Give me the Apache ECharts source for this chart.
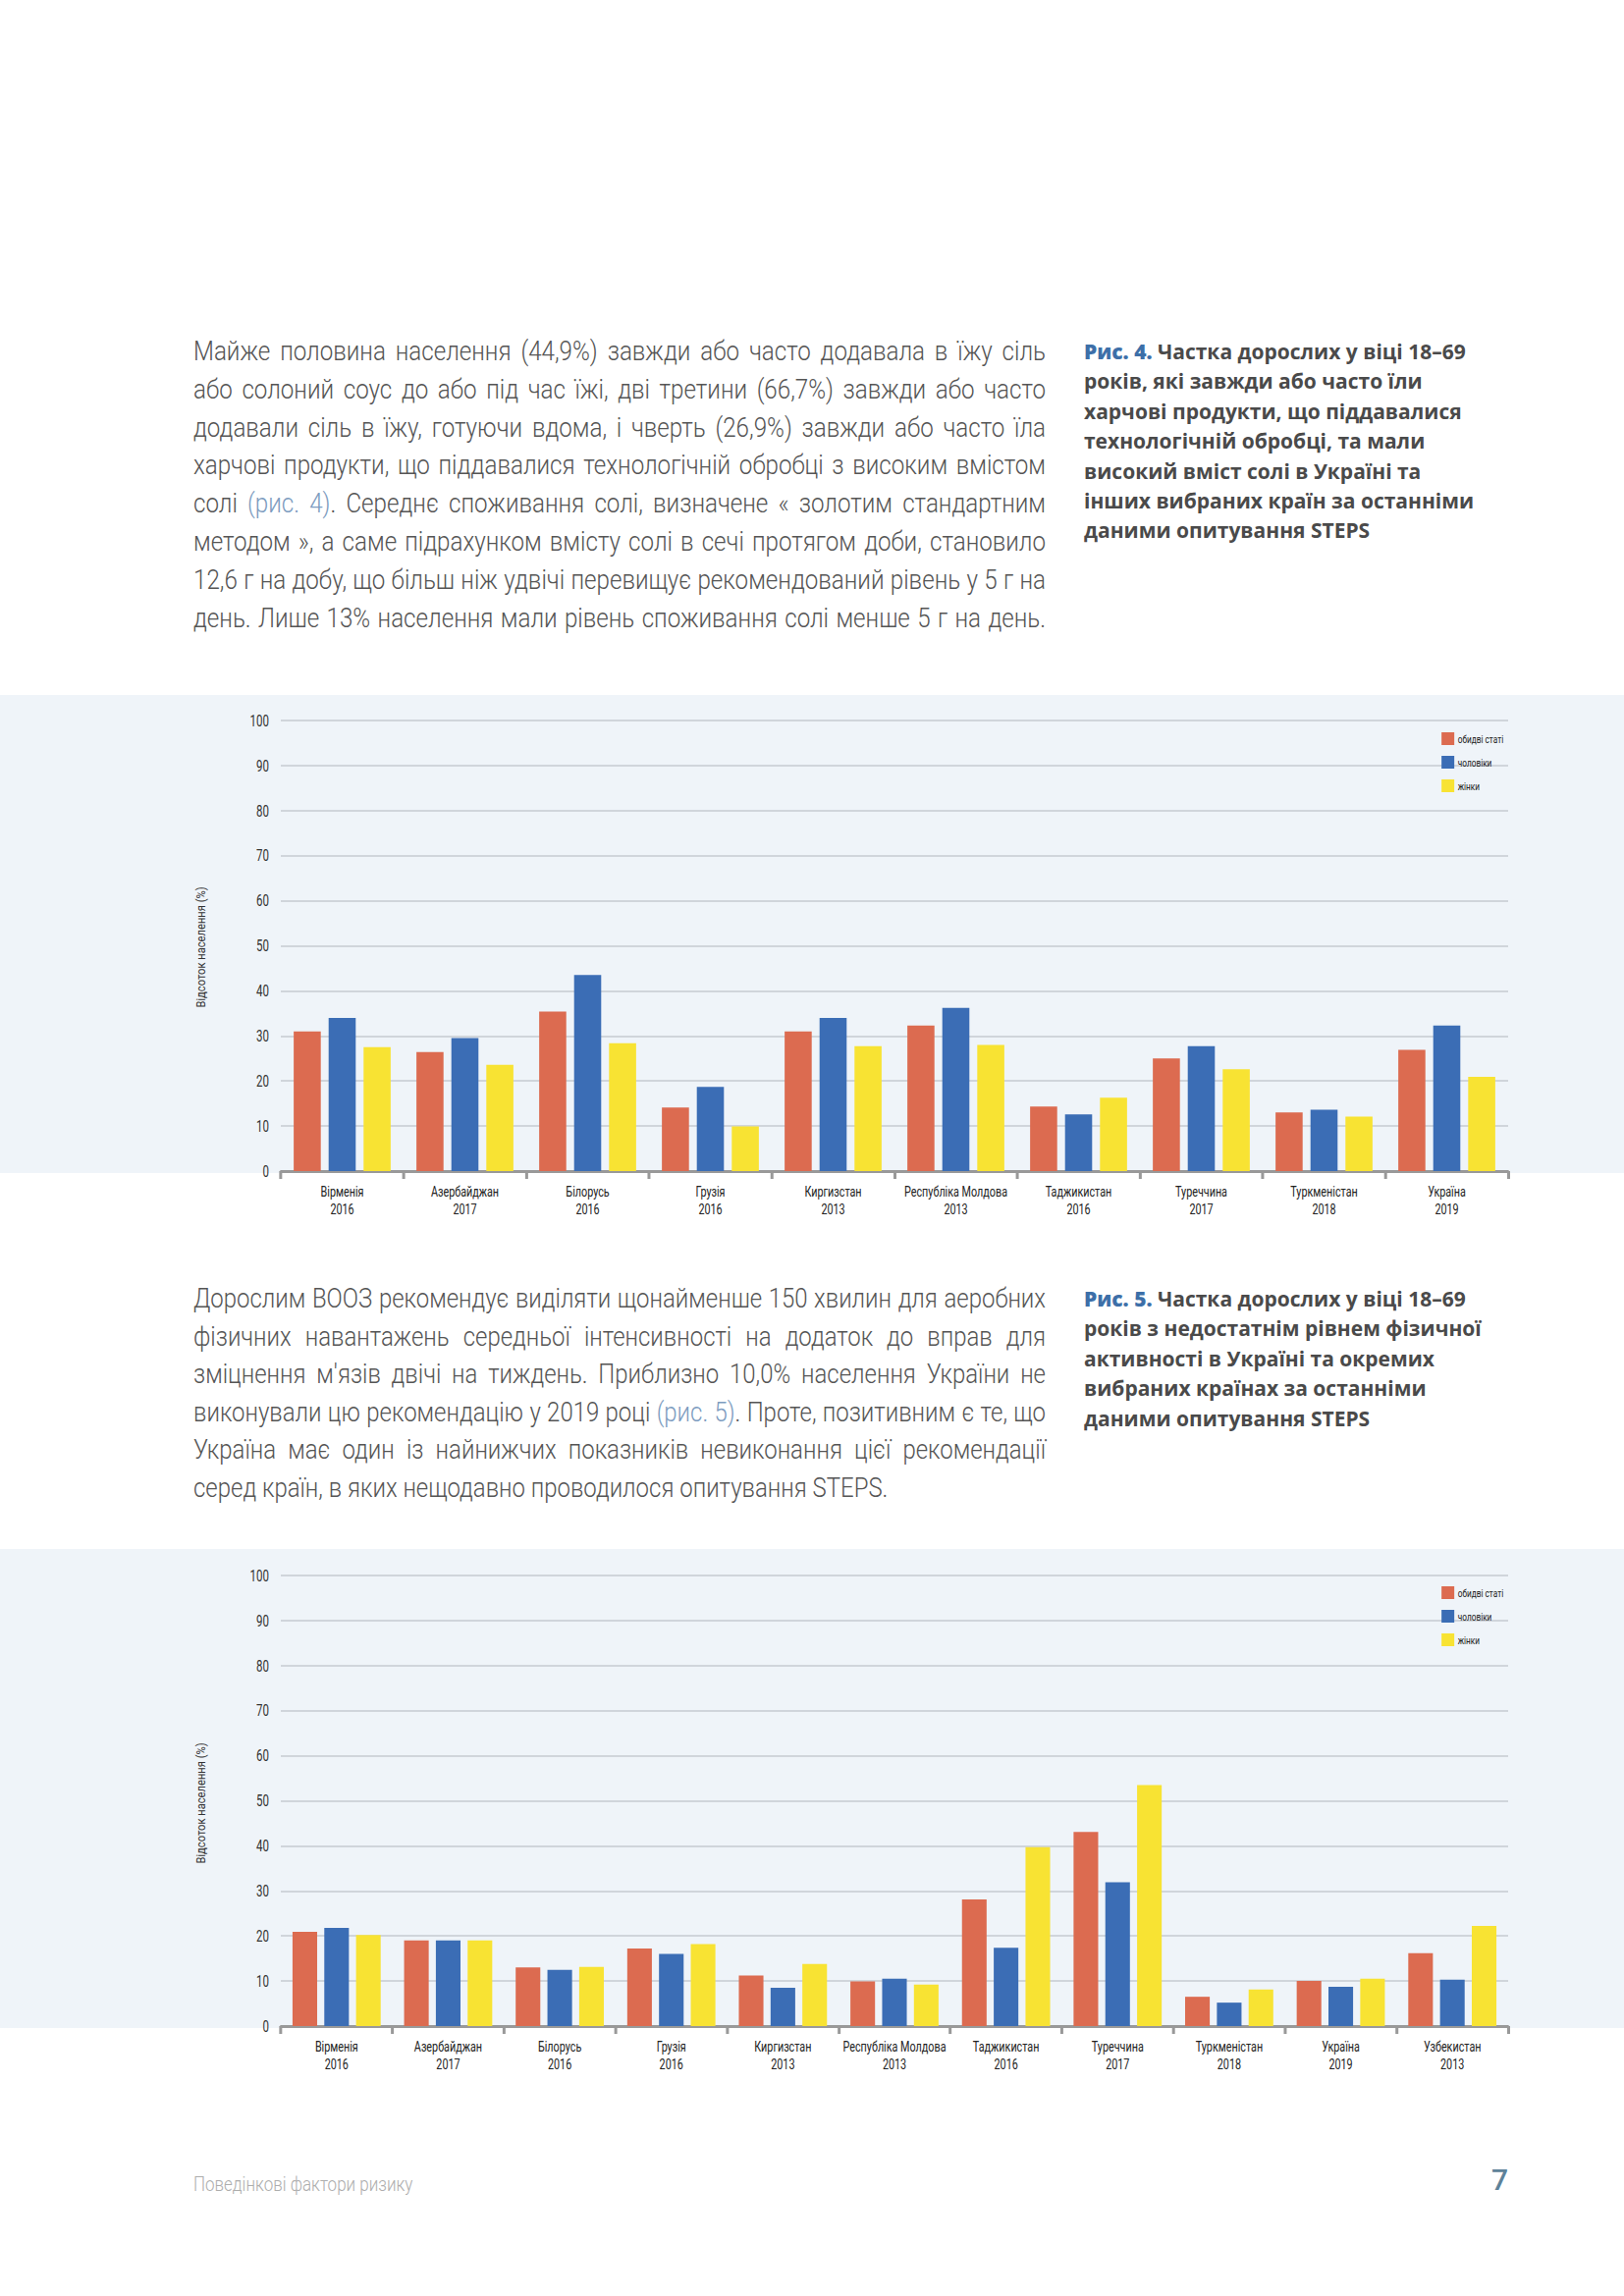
<!DOCTYPE html>
<html><head><meta charset="utf-8">
<script src="https://cdn.jsdelivr.net/npm/echarts/dist/echarts.min.js"></script>
<style>
html,body{margin:0;padding:0;background:#fff;}
body{width:1654px;height:2339px;position:relative;overflow:hidden;}
.para{position:absolute;left:197px;font-family:Roboto,sans-serif;font-weight:300;font-size:27px;color:#555;transform-origin:0 0;}
.para div{text-align:justify;text-align-last:justify;white-space:nowrap;}
.para div.last{text-align-last:left;}
.ref{color:#7d9cc0;}
.cap{position:absolute;left:1104px;font-family:'Open Sans',Roboto,sans-serif;font-weight:bold;font-size:21px;color:#4a4a4a;white-space:nowrap;}
.cap b{color:#3d6fa8;}
.panel{position:absolute;left:0;width:1654px;background:#eff4f9;}
.chart{position:absolute;left:0;transform-origin:0 0;}
.foot{position:absolute;}
</style></head>
<body>
<div class="para" id="p1" style="top:339px;line-height:38.8px;">
<div>Майже половина населення (44,9%) завжди або часто додавала в їжу сіль</div>
<div>або солоний соус до або під час їжі, дві третини (66,7%) завжди або часто</div>
<div>додавали сіль в їжу, готуючи вдома, і чверть (26,9%) завжди або часто їла</div>
<div>харчові продукти, що піддавалися технологічній обробці з високим вмістом</div>
<div>солі <span class="ref">(рис. 4)</span>. Середнє споживання солі, визначене « золотим стандартним</div>
<div>методом », а саме підрахунком вмісту солі в сечі протягом доби, становило</div>
<div>12,6 г на добу, що більш ніж удвічі перевищує рекомендований рівень у 5 г на</div>
<div>день. Лише 13% населення мали рівень споживання солі менше 5 г на день.</div>
</div>
<div class="cap" style="top:343px;line-height:30.4px;">
<b>Рис. 4.</b> Частка дорослих у віці 18–69<br>років, які завжди або часто їли<br>харчові продукти, що піддавалися<br>технологічній обробці, та мали<br>високий вміст солі в Україні та<br>інших вибраних країн за останніми<br>даними опитування STEPS
</div>

<div class="panel" style="top:708px;height:487px;"></div>
<div class="chart" id="c1" style="top:708px;height:560px;"></div>

<div class="para" id="p2" style="top:1304px;line-height:38.5px;">
<div>Дорослим ВООЗ рекомендує виділяти щонайменше 150 хвилин для аеробних</div>
<div>фізичних навантажень середньої інтенсивності на додаток до вправ для</div>
<div>зміцнення м'язів двічі на тиждень. Приблизно 10,0% населення України не</div>
<div>виконували цю рекомендацію у 2019 році <span class="ref">(рис. 5)</span>. Проте, позитивним є те, що</div>
<div>Україна має один із найнижчих показників невиконання цієї рекомендації</div>
<div class="last">серед країн, в яких нещодавно проводилося опитування STEPS.</div>
</div>
<div class="cap" style="top:1308px;line-height:30.4px;">
<b>Рис. 5.</b> Частка дорослих у віці 18–69<br>років з недостатнім рівнем фізичної<br>активності в Україні та окремих<br>вибраних країнах за останніми<br>даними опитування STEPS
</div>

<div class="panel" style="top:1578px;height:488px;"></div>
<div class="chart" id="c2" style="top:1578px;height:560px;"></div>

<div class="foot" style="left:197px;top:2213px;font-size:20px;color:#adadad;font-family:Roboto,sans-serif;font-weight:300;transform:scaleX(0.85);transform-origin:0 0;">Поведінкові фактори ризику</div>
<div class="foot" style="left:1490px;width:46px;text-align:right;top:2203px;font-size:30px;color:#5e8299;font-family:Roboto,sans-serif;font-weight:500;">7</div>

<script>
// ---- Data ----
const seriesNames = ['обидві статі', 'чоловіки', 'жінки'];
const colors = ['#dc6b50', '#3b6db5', '#f8e333'];
const yTicks = [0, 10, 20, 30, 40, 50, 60, 70, 80, 90, 100];
const yAxisName = 'Відсоток населення (%)';

const countries1 = ['Вірменія', 'Азербайджан', 'Білорусь', 'Грузія', 'Киргизстан', 'Республіка Молдова', 'Таджикистан', 'Туреччина', 'Туркменістан', 'Україна'];
const years1 = ['2016', '2017', '2016', '2016', '2013', '2013', '2016', '2017', '2018', '2019'];
const both1 = [31.0, 26.4, 35.4, 14.1, 31.0, 32.3, 14.3, 25.0, 13.0, 26.9];
const men1 = [34.0, 29.5, 43.5, 18.7, 34.0, 36.2, 12.6, 27.7, 13.6, 32.3];
const women1 = [27.5, 23.6, 28.4, 9.9, 27.7, 28.0, 16.3, 22.6, 12.1, 20.9];

const countries2 = ['Вірменія', 'Азербайджан', 'Білорусь', 'Грузія', 'Киргизстан', 'Республіка Молдова', 'Таджикистан', 'Туреччина', 'Туркменістан', 'Україна', 'Узбекистан'];
const years2 = ['2016', '2017', '2016', '2016', '2013', '2013', '2016', '2017', '2018', '2019', '2013'];
const both2 = [20.9, 19.0, 13.0, 17.2, 11.2, 9.9, 28.1, 43.1, 6.5, 10.0, 16.2];
const men2 = [21.8, 19.0, 12.5, 16.0, 8.5, 10.5, 17.4, 31.9, 5.2, 8.7, 10.3];
const women2 = [20.2, 19.0, 13.1, 18.2, 13.8, 9.2, 39.7, 53.5, 8.1, 10.5, 22.2];

// condense factor for chart typography (whole chart box is squeezed horizontally)
const S = 0.72;
const PAGE_W = 1654;
const FONT = 'Roboto, sans-serif';

// condense paragraphs so that justified lines fit 868px
function condense(id, w) {
  const el = document.getElementById(id);
  el.style.width = 'auto';
  let maxW = 0;
  el.querySelectorAll('div').forEach(d => {
    d.style.display = 'inline-block';
    maxW = Math.max(maxW, d.getBoundingClientRect().width);
    d.style.display = 'block';
  });
  const k = Math.min(0.9, (w - 6) / maxW);
  el.style.width = (w / k) + 'px';
  el.style.transform = 'scaleX(' + k + ')';
}
condense('p1', 868);
condense('p2', 868);

function makeOption(countries, years, data, gridTop, nameY) {
  const cats = countries.map((c, i) => c + '\n' + years[i]);
  return {
    animation: false,
    color: colors,
    textStyle: { fontFamily: FONT },
    legend: {
      orient: 'vertical', right: (PAGE_W - 1535) / S, top: 33, align: 'left',
      itemWidth: 13 / S, itemHeight: 13, itemGap: 11,
      icon: 'rect',
      textStyle: { fontFamily: FONT, fontSize: 11.5, color: '#222' },
      data: seriesNames
    },
    grid: { left: 286 / S, width: 1250 / S, top: gridTop, height: 459 },
    xAxis: {
      type: 'category', data: cats,
      axisLine: { lineStyle: { color: '#999', width: 3 } },
      axisTick: { show: true, interval: 0, length: 8, lineStyle: { color: '#999', width: 3 / S } },
      axisLabel: { interval: 0, margin: 12, fontFamily: FONT, fontSize: 15, lineHeight: 18, color: '#222' }
    },
    yAxis: {
      type: 'value', min: yTicks[0], max: yTicks[yTicks.length - 1], interval: yTicks[1] - yTicks[0],
      axisLine: { show: false }, axisTick: { show: false },
      axisLabel: { margin: 12 / S, fontFamily: FONT, fontSize: 16, color: '#333' },
      splitLine: { lineStyle: { color: '#c6cbd1', width: 1.5 } }
    },
    graphic: [{
      type: 'text', x: 205 / S, y: nameY, rotation: Math.PI / 2,
      scaleX: 0.86, scaleY: 1 / S,
      style: { text: yAxisName, fontFamily: FONT, fontSize: 13, fill: '#333', align: 'center', verticalAlign: 'middle' }
    }],
    series: data.map((d, i) => ({
      type: 'bar', name: seriesNames[i], data: d,
      barGap: '29%', barCategoryGap: '21%'
    }))
  };
}

function build(id, opt) {
  const dom = document.getElementById(id);
  dom.style.width = (PAGE_W / S) + 'px';
  dom.style.transform = 'scaleX(' + S + ')';
  const ch = echarts.init(dom, null, { renderer: 'svg' });
  ch.setOption(opt);
}
build('c1', makeOption(countries1, years1, [both1, men1, women1], 26, 257));
build('c2', makeOption(countries2, years2, [both2, men2, women2], 27, 259));
</script>
</body></html>
